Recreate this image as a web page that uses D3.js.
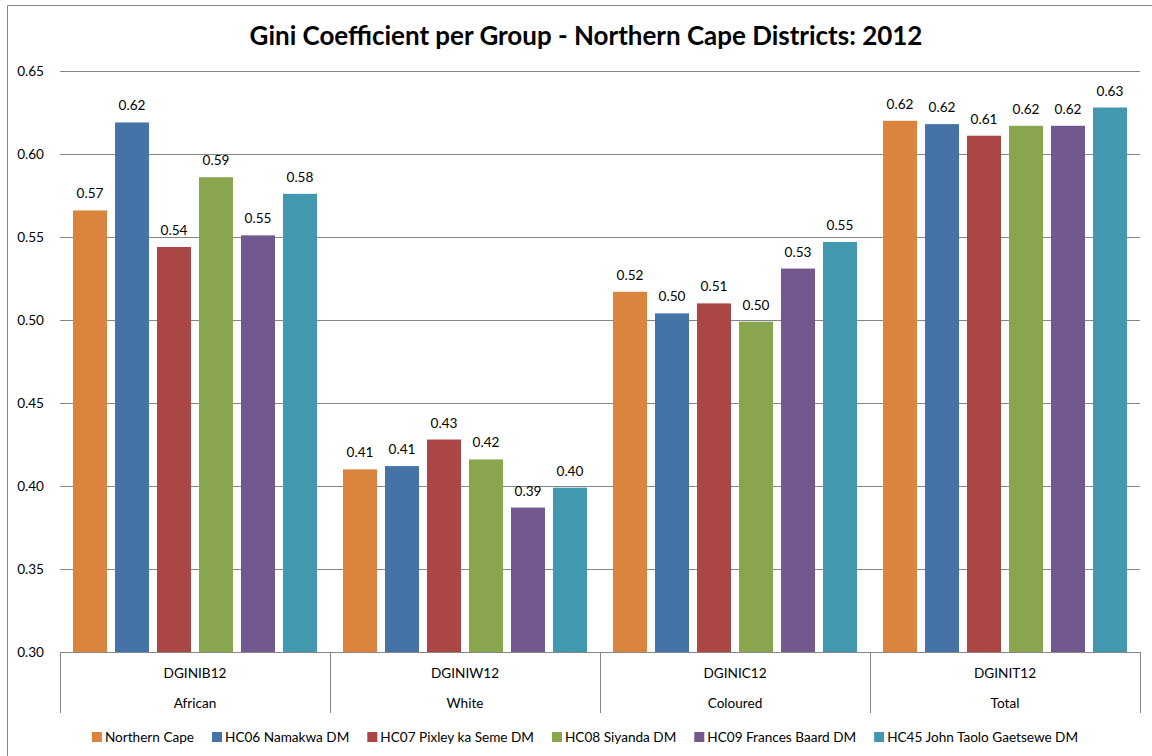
<!DOCTYPE html>
<html>
<head>
<meta charset="utf-8">
<script src="https://cdn.jsdelivr.net/npm/d3@7"></script>
<style>
  body { margin: 0; background: #fff; overflow: hidden; }
  text { font-family: Lato, "Open Sans", sans-serif; fill: #000; }
</style>
</head>
<body>
<div id="chart"></div>
<script>
// groups on the x axis (code line + label line)
var codes = ['DGINIB12', 'DGINIW12', 'DGINIC12', 'DGINIT12'];
var groups = ['African', 'White', 'Coloured', 'Total'];
var districts = ['Northern Cape', 'HC06 Namakwa DM', 'HC07 Pixley ka Seme DM',
    'HC08 Siyanda DM', 'HC09 Frances Baard DM', 'HC45 John Taolo Gaetsewe DM'];
var colors = ['#DB843D', '#4572A7', '#AA4643', '#89A54E', '#71588F', '#4198AF'];

// one array per group, in district order
var african  = [0.566, 0.619, 0.544, 0.586, 0.551, 0.576];
var white    = [0.410, 0.412, 0.428, 0.416, 0.387, 0.399];
var coloured = [0.517, 0.504, 0.510, 0.499, 0.531, 0.547];
var total    = [0.620, 0.618, 0.611, 0.617, 0.617, 0.628];
var yTicks = [0.30, 0.35, 0.40, 0.45, 0.50, 0.55, 0.60, 0.65];

var values = [african, white, coloured, total];

var fs = 13.6;
var width = 1152, height = 756;
var margin = { left: 60, top: 71, right: 12, bottom: 104 };
var innerWidth = width - margin.left - margin.right;
var innerHeight = height - margin.top - margin.bottom;

var svg = d3.select('#chart').append('svg')
    .attr('width', width)
    .attr('height', height);

// outer chart frame (left and top edges show)
svg.append('path')
    .attr('d', 'M7.5,' + height + 'V5.5H' + width)
    .attr('fill', 'none')
    .attr('stroke', '#868686')
    .attr('stroke-width', 1);

var g = svg.append('g')
    .attr('transform', 'translate(' + margin.left + ',' + margin.top + ')');

var x0 = d3.scaleBand().domain(groups).range([0, innerWidth]).padding(0);
var x1 = d3.scaleBand().domain(districts).range([0, x0.bandwidth()])
    .paddingInner(0.19).paddingOuter(0.31);
var y = d3.scaleLinear().domain([0.30, 0.65]).range([innerHeight, 0]);

// gridlines
g.selectAll('.grid')
    .data(yTicks.slice(1))
    .enter().append('line')
    .attr('x1', 0).attr('x2', innerWidth)
    .attr('y1', function (d) { return Math.round(y(d)) + 0.5; })
    .attr('y2', function (d) { return Math.round(y(d)) + 0.5; })
    .attr('stroke', '#868686')
    .attr('stroke-width', 1);

// y axis labels
var yAxis = d3.axisLeft(y).tickValues(yTicks).tickFormat(d3.format('.2f')).tickSize(0).tickPadding(16);
var yAxisG = g.append('g').call(yAxis);
yAxisG.select('.domain').remove();
yAxisG.selectAll('text').attr('font-size', fs).style('font-family', 'Lato, sans-serif');

// bars
var groupG = g.selectAll('.group')
    .data(values)
    .enter().append('g')
    .attr('transform', function (d, i) { return 'translate(' + x0(groups[i]) + ',0)'; });

groupG.selectAll('rect')
    .data(function (d) { return d; })
    .enter().append('rect')
    .attr('x', function (d, i) { return x1(districts[i]); })
    .attr('y', function (d) { return y(d); })
    .attr('width', x1.bandwidth())
    .attr('height', function (d) { return innerHeight - y(d); })
    .attr('fill', function (d, i) { return colors[i]; });

groupG.selectAll('.label')
    .data(function (d) { return d; })
    .enter().append('text')
    .attr('x', function (d, i) { return x1(districts[i]) + x1.bandwidth() / 2; })
    .attr('y', function (d) { return y(d) - 12; })
    .attr('text-anchor', 'middle')
    .attr('font-size', fs)
    .text(function (d) { return d.toFixed(2); });

// x axis baseline and group dividers
g.append('line')
    .attr('x1', 0).attr('x2', innerWidth)
    .attr('y1', innerHeight + 0.5).attr('y2', innerHeight + 0.5)
    .attr('stroke', '#868686');

var dividers = groups.map(function (d) { return x0(d); }).concat([innerWidth]);
g.selectAll('.divider')
    .data(dividers)
    .enter().append('line')
    .attr('x1', function (d) { return Math.round(d) + 0.5; })
    .attr('x2', function (d) { return Math.round(d) + 0.5; })
    .attr('y1', innerHeight).attr('y2', innerHeight + 61)
    .attr('stroke', '#868686');

g.selectAll('.code')
    .data(codes)
    .enter().append('text')
    .attr('x', function (d, i) { return x0(groups[i]) + x0.bandwidth() / 2; })
    .attr('y', innerHeight + 26)
    .attr('text-anchor', 'middle')
    .attr('font-size', fs)
    .text(function (d) { return d; });

g.selectAll('.grp')
    .data(groups)
    .enter().append('text')
    .attr('x', function (d) { return x0(d) + x0.bandwidth() / 2; })
    .attr('y', innerHeight + 56)
    .attr('text-anchor', 'middle')
    .attr('font-size', fs)
    .text(function (d) { return d; });

// title
var title = svg.append('text')
    .attr('x', 586)
    .attr('y', 45)
    .attr('text-anchor', 'middle')
    .attr('font-size', 24)
    .attr('font-weight', 'bold')
    .text('Gini Coefficient per Group - Northern Cape Districts: 2012');
var tw = title.node().getComputedTextLength();
title.attr('font-size', 24 * 673 / tw);

// legend
var legend = svg.append('g');
var lx = 0;
districts.forEach(function (name, i) {
    var item = legend.append('g').attr('transform', 'translate(' + lx + ',0)');
    item.append('rect')
        .attr('x', 0).attr('y', -9)
        .attr('width', 10).attr('height', 10)
        .attr('fill', colors[i]);
    var t = item.append('text')
        .attr('x', 13).attr('y', 1)
        .attr('font-size', fs)
        .text(name);
    lx += 13 + t.node().getComputedTextLength() + 18;
});
var legendWidth = lx - 18;
legend.attr('transform', 'translate(' + (585 - legendWidth / 2) + ',741)');
</script>
</body>
</html>
